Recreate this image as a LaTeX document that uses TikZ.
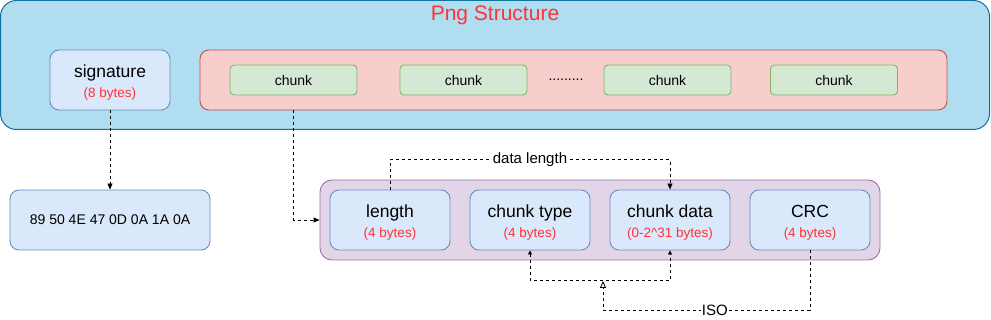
\documentclass[tikz,border=0pt]{standalone}
\usepackage{fontspec}
\setmainfont{Liberation Sans}
\usetikzlibrary{arrows.meta}
\definecolor{pngfill}{HTML}{B1DDF0}
\definecolor{pngline}{HTML}{10739E}
\definecolor{fieldfill}{HTML}{DAE8FC}
\definecolor{fieldline}{HTML}{6C8EBF}
\definecolor{chunkfill}{HTML}{D5E8D4}
\definecolor{chunkline}{HTML}{82B366}
\definecolor{areafill}{HTML}{F8CECC}
\definecolor{arealine}{HTML}{B85450}
\definecolor{groupfill}{HTML}{E1D5E7}
\definecolor{groupline}{HTML}{9673A6}
\definecolor{note}{HTML}{FF3333}
\newcommand{\fieldtext}[2]{\rule{0pt}{18.5pt}#1\\[0pt]{\fontsize{13.5}{16}\selectfont\color{note}#2}}
\tikzset{
  field/.style={draw=fieldline,fill=fieldfill,rounded corners=9pt,minimum width=120pt,line width=0.9pt,
    minimum height=60pt,inner sep=0pt,align=center,font=\fontsize{17.5}{20}\selectfont},
  chunkbox/.style={draw=chunkline,fill=chunkfill,rounded corners=4pt,minimum width=127pt,line width=0.9pt,
    minimum height=30pt,inner sep=0pt,font=\fontsize{14}{16}\selectfont},
  link/.style={draw=black,line width=0.8pt,dash pattern=on 3pt off 3pt,
    -{Triangle[length=6pt,width=5pt]}},
}

\begin{document}
\begin{tikzpicture}[x=1pt,y=-1pt,font=\fontsize{14}{16}\selectfont]
  \useasboundingbox (0,0) rectangle (991,320);
  \node[draw=pngline,fill=pngfill,rounded corners=16pt,minimum width=989pt,minimum height=129pt,inner sep=0pt,line width=1pt] (png) at (495,65) {};
  \node[note,font=\fontsize{21}{24}\selectfont] (title) at (495,15) {Png Structure};
  \node[field] (sig) at (110,80) {\fieldtext{signature}{(8 bytes)}};
  \node[draw=arealine,fill=areafill,rounded corners=9pt,minimum width=747pt,minimum height=60pt,inner sep=0pt,line width=0.9pt] (chunks) at (573.5,80) {};
  \node[chunkbox] (chunk1) at (293.5,80) {chunk};
  \node[chunkbox] (chunk2) at (463.5,80) {chunk};
  \node (dots) at (566,80) {.........};
  \node[chunkbox] (chunk3) at (667.5,80) {chunk};
  \node[chunkbox] (chunk4) at (834,80) {chunk};

  \node[field,minimum width=200pt,font=\fontsize{14}{16}\selectfont] (hex) at (110,220) {89 50 4E 47 0D 0A 1A 0A};
  \node[draw=groupline,fill=groupfill,rounded corners=12pt,minimum width=560pt,minimum height=80pt,inner sep=0pt,line width=0.9pt] (fields) at (600,220) {};
  \node[field] (length) at (390,220) {\fieldtext{length}{(4 bytes)}};
  \node[field] (type) at (530,220) {\fieldtext{chunk type}{(4 bytes)}};
  \node[field] (data) at (670,220) {\fieldtext{chunk data}{(0-2\^{}31 bytes)}};
  \node[field] (crc) at (810,220) {\fieldtext{CRC}{(4 bytes)}};
  \coordinate (join) at (603,281);

  \draw[link] (sig.south) -- (hex.north);
  \draw[link] (chunk1 |- chunks.south) |- (fields.west);
  \draw[link] (length.north) -- ++(0,-30) -| node[pos=0.25,fill=white,inner sep=1pt,font=\fontsize{15}{17}\selectfont] {data length} (data.north);
  \draw[link,{Triangle[length=4pt,width=4pt]}-{Triangle[length=4pt,width=4pt]}] (type.south) -- ++(0,30) -| (data.south);
  \draw[link,-{Triangle[open,length=7pt,width=6pt]}] (crc.south) -- ++(0,60) -| node[pos=0.23,fill=white,inner sep=1pt,font=\fontsize{15}{17}\selectfont] {ISO} (join);
\end{tikzpicture}
\end{document}
